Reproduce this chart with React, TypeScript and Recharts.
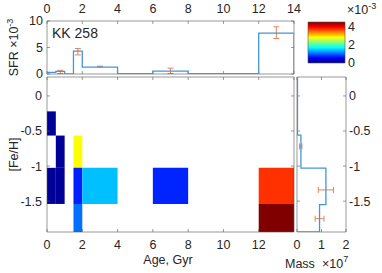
import React from 'react'
import { ComposedChart, Scatter, XAxis, YAxis, ErrorBar, ReferenceArea } from 'recharts'

// axis ticks
const ageTicks = [0, 2, 4, 6, 8, 10, 12, 14]
const ageTicksMain = [0, 2, 4, 6, 8, 10, 12]
const sfrTicks = [0, 5, 10]
const fehTicks = [-1.5, -1, -0.5, 0]
const massTicks = [0, 1, 2]
const cbarTicks = [0, 2, 4]
const cbarMax = 4.5

// star formation history, SFR in 1e-3 per age bin (Gyr)
const ageEdges = [0, 0.5, 1, 1.5, 2, 4, 6, 8, 12, 14]
const sfrValues = [0.3, 0.5, 0, 4.3, 1.3, 0.05, 0.55, 0.05, 7.7]
const sfrErrAge = [0.75, 1.75, 3, 7, 13]
const sfrErrVal = [0.4, 4.2, 1.4, 0.6, 7.8]
const sfrErr = [0.3, 0.6, 0.08, 0.5, 1.1]

// age-metallicity cells: [age bin, [Fe/H] bin, SFR 1e-3]
const fehEdges = [-0.22, -0.565, -1.025, -1.54, -1.94]
const cells: [number, number, number][] = [
  [0, 0, 0.11], [1, 1, 0.11], [0, 2, 0.11], [1, 2, 0.11],
  [3, 1, 2.81], [3, 2, 0.7], [3, 3, 1.06],
  [4, 2, 1.41], [6, 2, 0.72],
  [8, 2, 3.72], [8, 3, 4.5],
]

// mass per [Fe/H] bin, 1e7
const massFehEdges = [0.27, -0.56, -1.03, -1.55, -1.94]
const massValues = [0.02, 0.16, 1.18, 0.92]
const massErrFeh = [-0.72, -1.34, -1.75]
const massErrVal = [0.15, 1.18, 0.92]
const massErr = [0.05, 0.31, 0.18]

const FONT = '"Liberation Sans", Arial, sans-serif'
const TXT = '#262626'
const AX = '#555555'
const LINE = '#4496d6'
const ERR = '#e8835a'

const clamp = (v: number) => Math.max(0, Math.min(1, v))
function jet(v: number) {
  const t = clamp(v / cbarMax)
  const r = clamp(Math.min(4 * t - 1.5, -4 * t + 4.5))
  const g = clamp(Math.min(4 * t - 0.5, -4 * t + 3.5))
  const b = clamp(Math.min(4 * t + 0.5, -4 * t + 2.5))
  return `rgb(${Math.round(r * 255)},${Math.round(g * 255)},${Math.round(b * 255)})`
}

const sfrStep = [{ x: 0, y: 0 }]
sfrValues.forEach((v, i) => {
  sfrStep.push({ x: ageEdges[i], y: v }, { x: ageEdges[i + 1], y: v })
})
sfrStep.push({ x: 14, y: 0 })
const sfrErrData = sfrErrAge.map((x, i) => ({ x, y: sfrErrVal[i], e: sfrErr[i] }))

const cellPts = cells.map(([a, f]) => ({
  x: (ageEdges[a] + ageEdges[a + 1]) / 2,
  y: (fehEdges[f] + fehEdges[f + 1]) / 2,
}))

const massStep: { x: number; y: number }[] = []
massValues.forEach((m, i) => {
  massStep.push({ x: m, y: massFehEdges[i] }, { x: m, y: massFehEdges[i + 1] })
})
massStep.push({ x: 0, y: -1.94 })
const massErrData = massErrFeh.map((y, i) => ({ x: massErrVal[i], y, e: massErr[i] }))

const cbarPts = [{ x: 0, y: 0 }, { x: 1, y: cbarMax }]

const tickStyle = { fill: TXT, fontSize: 12.5, fontFamily: FONT }
const frame = {
  type: 'number' as const,
  dataKey: 'x',
  allowDataOverflow: true,
  interval: 0 as const,
  tickSize: -3,
  axisLine: { stroke: AX, strokeWidth: 0.6 },
  tickLine: { stroke: AX, strokeWidth: 0.6 },
  tick: tickStyle,
}
const frameY = { ...frame, dataKey: 'y' }
const blank = () => ''
const noDot = () => <g />

export default function App() {
  return (
    <div style={{ position: 'absolute', left: 0, top: 0, width: 382, height: 273, background: '#fff', fontFamily: FONT }}>
      {/* SFR history */}
      <div style={{ position: 'absolute', left: 0, top: 0 }}>
        <ComposedChart width={382} height={80} margin={{ top: 0, right: 82, bottom: 0, left: 0 }}>
          <XAxis {...frame} xAxisId="t" orientation="top" domain={[0, 14]} ticks={ageTicks} height={21} tickMargin={11} />
          <XAxis {...frame} xAxisId="b" orientation="bottom" domain={[0, 14]} ticks={ageTicks} height={6} tickFormatter={blank} />
          <YAxis {...frameY} yAxisId="l" domain={[0, 10]} ticks={sfrTicks} width={47} tickMargin={7} />
          <YAxis {...frameY} yAxisId="r" orientation="right" domain={[0, 10]} ticks={sfrTicks} width={6} tickFormatter={blank} />
          <Scatter xAxisId="b" yAxisId="r" data={sfrStep} shape={noDot} isAnimationActive={false} />
          <Scatter xAxisId="t" yAxisId="l" data={sfrStep} line={{ stroke: LINE, strokeWidth: 1.3 }} shape={noDot} isAnimationActive={false} />
          <Scatter xAxisId="t" yAxisId="l" data={sfrErrData} shape={noDot} isAnimationActive={false}>
            <ErrorBar dataKey="e" direction="y" width={3} stroke={ERR} strokeWidth={1} />
          </Scatter>
        </ComposedChart>
      </div>

      {/* age - metallicity map */}
      <div style={{ position: 'absolute', left: 0, top: 71 }}>
        <ComposedChart width={382} height={181} margin={{ top: 0, right: 82, bottom: 0, left: 0 }}>
          <XAxis {...frame} xAxisId="t" orientation="top" domain={[0, 14]} ticks={ageTicks} height={6} tickFormatter={blank} />
          <XAxis {...frame} xAxisId="b" orientation="bottom" domain={[0, 14]} ticks={ageTicksMain} height={20} tickMargin={11} />
          <YAxis {...frameY} yAxisId="l" domain={[-1.94, 0.27]} ticks={fehTicks} width={47} tickMargin={8} />
          <YAxis {...frameY} yAxisId="r" orientation="right" domain={[-1.94, 0.27]} ticks={fehTicks} width={6} tickFormatter={blank} />
          <Scatter xAxisId="t" yAxisId="r" data={cellPts} shape={noDot} isAnimationActive={false} />
          <Scatter xAxisId="b" yAxisId="l" data={cellPts} shape={noDot} isAnimationActive={false} />
          {cells.map(([a, f, v], i) => (
            <ReferenceArea
              key={i}
              xAxisId="b"
              yAxisId="l"
              x1={ageEdges[a]}
              x2={ageEdges[a + 1]}
              y1={fehEdges[f + 1]}
              y2={fehEdges[f]}
              fill={jet(v)}
              fillOpacity={1}
              stroke="none"
            />
          ))}
        </ComposedChart>
      </div>

      {/* mass per metallicity */}
      <div style={{ position: 'absolute', left: 0, top: 71 }}>
        <ComposedChart width={382} height={181} margin={{ top: 0, right: 0, bottom: 0, left: 291 }}>
          <XAxis {...frame} xAxisId="t" orientation="top" domain={[0, 2]} ticks={massTicks} height={6} tickFormatter={blank} />
          <XAxis {...frame} xAxisId="b" orientation="bottom" domain={[0, 2]} ticks={massTicks} height={20} tickMargin={11} />
          <YAxis {...frameY} yAxisId="l" domain={[-1.94, 0.27]} ticks={fehTicks} width={6} tickFormatter={blank} />
          <YAxis {...frameY} yAxisId="r" orientation="right" domain={[-1.94, 0.27]} ticks={fehTicks} width={36} tickMargin={6} />
          <Scatter xAxisId="t" yAxisId="l" data={massStep} shape={noDot} isAnimationActive={false} />
          <Scatter xAxisId="b" yAxisId="r" data={massStep} line={{ stroke: LINE, strokeWidth: 1.3 }} shape={noDot} isAnimationActive={false} />
          <Scatter xAxisId="b" yAxisId="r" data={massErrData} shape={noDot} isAnimationActive={false}>
            <ErrorBar dataKey="e" direction="x" width={3} stroke={ERR} strokeWidth={1} />
          </Scatter>
        </ComposedChart>
      </div>

      {/* colorbar */}
      <div style={{ position: 'absolute', left: 0, top: 0 }}>
        <ComposedChart width={382} height={70} margin={{ top: 22, right: 0, bottom: 7, left: 308 }}>
          <defs>
            <linearGradient id="jetGrad" x1="0" y1="0" x2="0" y2="1">
              {[0, 0.125, 0.25, 0.375, 0.5, 0.625, 0.75, 0.875, 1].map((o) => (
                <stop key={o} offset={o} stopColor={jet((1 - o) * cbarMax)} />
              ))}
            </linearGradient>
          </defs>
          <XAxis xAxisId="c" type="number" dataKey="x" domain={[0, 1]} hide allowDataOverflow />
          <YAxis
            yAxisId="c"
            orientation="right"
            type="number"
            dataKey="y"
            domain={[0, cbarMax]}
            ticks={cbarTicks}
            width={37}
            allowDataOverflow
            interval={0}
            tickSize={0}
            tickMargin={3}
            axisLine={false}
            tickLine={false}
            tick={tickStyle}
          />
          <Scatter xAxisId="c" yAxisId="c" data={cbarPts} shape={noDot} isAnimationActive={false} />
          <ReferenceArea xAxisId="c" yAxisId="c" x1={0} x2={1} y1={0} y2={cbarMax} fill="url(#jetGrad)" fillOpacity={1} stroke={AX} strokeWidth={0.6} />
        </ComposedChart>
      </div>

      {/* text labels */}
      <svg width={382} height={273} style={{ position: 'absolute', left: 0, top: 0, pointerEvents: 'none' }}>
        <g fill={TXT} fontFamily={FONT}>
          <text x={52} y={38} fontSize={14}>KK 258</text>
          <text transform="translate(18,47.5) rotate(-90)" textAnchor="middle" fontSize={12.5}>
            SFR ×10<tspan dy={-5} fontSize={9}>-3</tspan>
          </text>
          <text transform="translate(18,154.5) rotate(-90)" textAnchor="middle" fontSize={12.5}>[Fe/H]</text>
          <text x={168} y={264} textAnchor="middle" fontSize={12.5}>Age, Gyr</text>
          <text x={285} y={268} fontSize={12.5}>
            Mass<tspan x={322}>×10</tspan><tspan dy={-6} fontSize={9}>7</tspan>
          </text>
          <text x={347} y={14} fontSize={12.5}>
            ×10<tspan dy={-5} fontSize={9}>-3</tspan>
          </text>
        </g>
      </svg>
    </div>
  )
}
